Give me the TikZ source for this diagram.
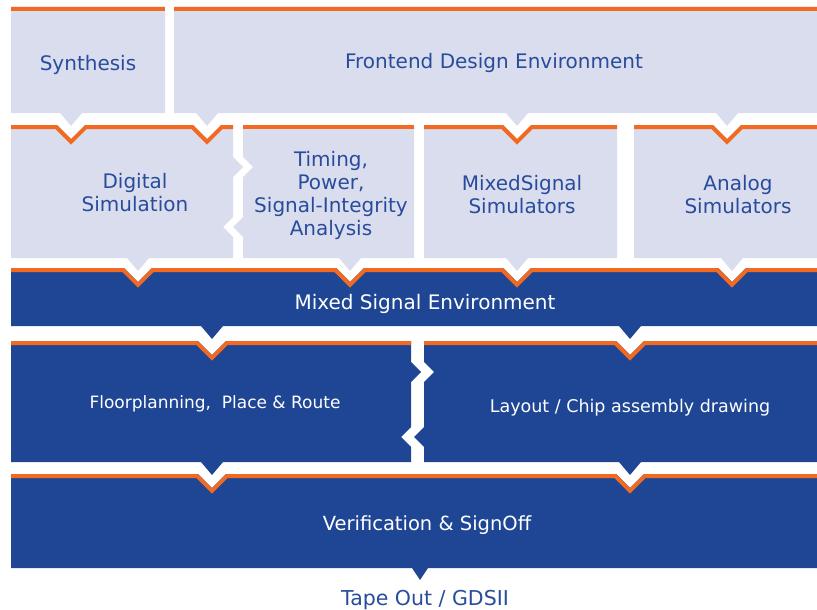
\documentclass[tikz,border=0pt]{standalone}
\usepackage{fontspec}
\setmainfont{DejaVu Sans}
\definecolor{lav}{RGB}{218,221,238}
\definecolor{dblue}{RGB}{31,70,148}
\definecolor{org}{RGB}{242,105,33}
\definecolor{tblue}{RGB}{40,76,156}
\tikzset{
  orangeedge/.style={draw=org, line width=8pt, line join=miter},
  lbl/.style={font=\fontsize{20}{23}\selectfont, text=tblue, align=center, inner sep=0pt},
  wlbl/.style={lbl, text=white},
  smalllbl/.style={wlbl, font=\fontsize{17}{20}\selectfont},
}
\newcommand\stepbox[3]{% fill colour, polygon, top edge
  \fill[#1] #2;
  \begin{scope}
    \clip #2;
    \draw[orangeedge] #3;
  \end{scope}}
\begin{document}
\begin{tikzpicture}[x=1pt,y=-1pt]
\useasboundingbox (0,0) rectangle (817,610);
% Row 1
\stepbox{lav}{(11,7) -- (165,7) -- (165,113) -- (82,113) -- (71,126) -- (60,113) -- (11,113) -- cycle}{(11,7) -- (165,7)}
\stepbox{lav}{(174,7) -- (817,7) -- (817,113) -- (738,113) -- (727,126) -- (716,113) -- (528,113) -- (517,126) -- (506,113) -- (218,113) -- (207,126) -- (196,113) -- (174,113) -- cycle}{(174,7) -- (817,7)}
% Row 2
\stepbox{lav}{(11,125) -- (57,125) -- (71,139) -- (85,125) -- (193,125) -- (207,139) -- (221,125) -- (233,125) -- (233,157) -- (243,167) -- (233,177) -- (233,217) -- (223,227) -- (233,237) -- (233,258) -- (149,258) -- (138,271) -- (127,258) -- (11,258) -- cycle}{(11,125) -- (57,125) -- (71,139) -- (85,125) -- (193,125) -- (207,139) -- (221,125) -- (233,125)}
\stepbox{lav}{(243,125) -- (414,125) -- (414,258) -- (361,258) -- (350,271) -- (339,258) -- (243,258) -- (243,237) -- (233,227) -- (243,217) -- (243,177) -- (253,167) -- (243,157) -- cycle}{(243,125) -- (414,125)}
\stepbox{lav}{(424,125) -- (503,125) -- (517,139) -- (531,125) -- (617,125) -- (617,258) -- (528,258) -- (517,271) -- (506,258) -- (424,258) -- cycle}{(424,125) -- (503,125) -- (517,139) -- (531,125) -- (617,125)}
\stepbox{lav}{(634,125) -- (713,125) -- (727,139) -- (741,125) -- (817,125) -- (817,258) -- (743,258) -- (732,271) -- (721,258) -- (634,258) -- cycle}{(634,125) -- (713,125) -- (727,139) -- (741,125) -- (817,125)}
% Row 3
\stepbox{dblue}{(11,268) -- (124,268) -- (138,282) -- (152,268) -- (336,268) -- (350,282) -- (364,268) -- (503,268) -- (517,282) -- (531,268) -- (718,268) -- (732,282) -- (746,268) -- (817,268) -- (817,326) -- (641,326) -- (630,339) -- (619,326) -- (223,326) -- (212,339) -- (201,326) -- (11,326) -- cycle}{(11,268) -- (124,268) -- (138,282) -- (152,268) -- (336,268) -- (350,282) -- (364,268) -- (503,268) -- (517,282) -- (531,268) -- (718,268) -- (732,282) -- (746,268) -- (817,268)}
% Row 4
\stepbox{dblue}{(11,341) -- (198,341) -- (212,355) -- (226,341) -- (411,341) -- (411,362) -- (421,372) -- (411,382) -- (411,427) -- (401,437) -- (411,447) -- (411,462) -- (223,462) -- (212,475) -- (201,462) -- (11,462) -- cycle}{(11,341) -- (198,341) -- (212,355) -- (226,341) -- (411,341)}
\stepbox{dblue}{(424,341) -- (616,341) -- (630,355) -- (644,341) -- (817,341) -- (817,462) -- (641,462) -- (630,475) -- (619,462) -- (424,462) -- (424,447) -- (414,437) -- (424,427) -- (424,382) -- (434,372) -- (424,362) -- cycle}{(424,341) -- (616,341) -- (630,355) -- (644,341) -- (817,341)}
% Row 5
\stepbox{dblue}{(11,474) -- (198,474) -- (212,488) -- (226,474) -- (616,474) -- (630,488) -- (644,474) -- (817,474) -- (817,568) -- (428,568) -- (420,580) -- (412,568) -- (11,568) -- cycle}{(11,474) -- (198,474) -- (212,488) -- (226,474) -- (616,474) -- (630,488) -- (644,474) -- (817,474)}
% Labels
\node[lbl] (syn) at (88,65) {Synthesis};
\node[lbl] (fe) at (494,63) {Frontend Design Environment};
\node[lbl] (dig) at (135,193) {Digital\\Simulation};
\node[lbl] (tim) at (331,195) {Timing,\\Power,\\Signal-Integrity\\Analysis};
\node[lbl] (mss) at (522,195) {MixedSignal\\Simulators};
\node[lbl] (ana) at (738,195) {Analog\\Simulators};
\node[wlbl] (mse) at (425,304) {Mixed Signal Environment};
\node[smalllbl] (fpr) at (215,404) {Floorplanning,\ \ Place \& Route};
\node[smalllbl, font=\fontsize{17.5}{20}\selectfont] (lay) at (630,408) {Layout / Chip assembly drawing};
\node[wlbl, font=\fontsize{19.5}{22}\selectfont] (ver) at (427,525) {Verification \& SignOff};
\node[lbl, font=\fontsize{20.5}{23}\selectfont] (tape) at (425,600) {Tape Out / GDSII};
\end{tikzpicture}
\end{document}
